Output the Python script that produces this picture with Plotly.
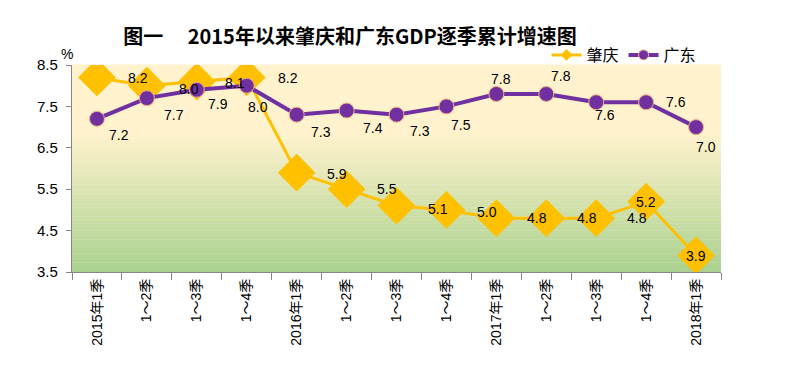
import plotly.graph_objects as go

categories = ["2015年1季", "1～2季", "1～3季", "1～4季",
              "2016年1季", "1～2季 ", "1～3季 ", "1～4季 ",
              "2017年1季", "1～2季  ", "1～3季  ", "1～4季  ",
              "2018年1季"]
tick_text = ["2015年1季", "1～2季", "1～3季", "1～4季",
             "2016年1季", "1～2季", "1～3季", "1～4季",
             "2017年1季", "1～2季", "1～3季", "1～4季",
             "2018年1季"]
zhaoqing = [8.2, 8.0, 8.1, 8.2, 5.9, 5.5, 5.1, 5.0, 4.8, 4.8, 4.8, 5.2, 3.9]
guangdong = [7.2, 7.7, 7.9, 8.0, 7.3, 7.4, 7.3, 7.5, 7.8, 7.8, 7.6, 7.6, 7.0]
y_ticks = [3.5, 4.5, 5.5, 6.5, 7.5, 8.5]

# label offsets in screen pixels (dx right, dy down)
zq_offsets = [(41, 1), (42, 3), (38, 1), (41, 1), (40, 1), (40, 0), (41, 3),
              (41, 2), (41, 0), (41, 0), (41, 0), (0, 0), (0, 1)]
gd_offsets = [(22, 16), (27, 17), (21, 14), (11, 21), (24, 17), (26, 17), (23, 16),
              (15, 19), (5, -15), (15, -18), (9, 13), (30, 0), (10, 20)]

YEL = "#FFC000"
PUR = "#7030A0"
LAB_FONT = dict(family="Liberation Sans, Noto Sans CJK SC", size=14, color="#000000")

fig = go.Figure()

# gradient background strips
n = 90
top = (255, 242, 204)
bot = (169, 209, 142)
for i in range(n):
    y0 = i / n
    y1 = (i + 1) / n
    t = 1 - (y0 + y1) / 2  # fraction from top
    if t < 0.33:
        f = 0.0
    else:
        f = (t - 0.33) / 0.67
    c = tuple(int(round(top[k] + (bot[k] - top[k]) * f)) for k in range(3))
    fig.add_shape(type="rect", xref="x domain", yref="y domain",
                  x0=0, x1=1, y0=y0, y1=y1 + 0.002, line_width=0,
                  fillcolor="rgb(%d,%d,%d)" % c, layer="below")

fig.add_trace(go.Scatter(
    x=categories, y=zhaoqing, mode="lines+markers", name="肇庆",
    line=dict(color=YEL, width=3),
    marker=dict(symbol="diamond", size=29, color=YEL),
    showlegend=False, hoverinfo="skip"))
fig.add_trace(go.Scatter(
    x=categories, y=guangdong, mode="lines+markers", name="广东",
    line=dict(color=PUR, width=4),
    marker=dict(symbol="circle", size=15, color=PUR, line=dict(color="#F4B183", width=1)),
    showlegend=False, hoverinfo="skip"))

# legend-only traces
fig.add_trace(go.Scatter(
    x=[None], y=[None], mode="lines+markers", name="肇庆",
    line=dict(color=YEL, width=3),
    marker=dict(symbol="diamond", size=9, color=YEL)))
fig.add_trace(go.Scatter(
    x=[None], y=[None], mode="lines+markers", name="广东",
    line=dict(color=PUR, width=4),
    marker=dict(symbol="circle", size=10, color=PUR, line=dict(color="#F4B183", width=1))))

for c, v, (dx, dy) in zip(categories, zhaoqing, zq_offsets):
    fig.add_annotation(x=c, y=v, text="%.1f" % v, showarrow=False,
                       xshift=dx, yshift=-dy, font=LAB_FONT)
for c, v, (dx, dy) in zip(categories, guangdong, gd_offsets):
    fig.add_annotation(x=c, y=v, text="%.1f" % v, showarrow=False,
                       xshift=dx, yshift=-dy, font=LAB_FONT)

fig.add_annotation(xref="paper", yref="paper", x=0, y=1, text="%",
                   showarrow=False, xanchor="center", yanchor="bottom",
                   xshift=-5, yshift=1,
                   font=dict(family="Liberation Sans", size=14, color="#000000"))

fig.update_layout(
    width=791, height=380,
    margin=dict(l=72, r=70, t=65, b=108, autoexpand=False),
    paper_bgcolor="white", plot_bgcolor="white",
    title=dict(text="<b>图一　 2015年以来肇庆和广东GDP逐季累计增速图</b>",
               x=350 / 791, xanchor="center", xref="container",
               y=1 - 37 / 380, yanchor="middle", yref="container",
               font=dict(family="Noto Sans CJK SC", size=20, color="#000000")),
    legend=dict(orientation="h", x=0.97, xanchor="right", y=(272 - 55) / 207, yanchor="middle",
                font=dict(family="Noto Sans CJK SC", size=16, color="#000000"),
                bgcolor="rgba(0,0,0,0)", itemwidth=30, tracegroupgap=0),
    showlegend=True,
)
fig.update_xaxes(
    type="category", range=[-0.5, 12.5],
    tickmode="array", tickvals=categories, ticktext=tick_text,
    tickangle=-90, tickson="boundaries", ticks="outside", ticklen=7,
    tickcolor="#878787", tickwidth=1.3,
    showline=True, linecolor="#878787", linewidth=1.3,
    showgrid=False, zeroline=False,
    tickfont=dict(family="Liberation Sans, Noto Sans CJK SC", size=14, color="#000000"))
fig.update_yaxes(
    range=[3.5, 8.5], tickmode="array", tickvals=y_ticks,
    ticktext=["%.1f" % v for v in y_ticks],
    ticks="outside", ticklen=5, tickcolor="#878787", tickwidth=1.3,
    showline=True, linecolor="#878787", linewidth=1.3,
    showgrid=False, zeroline=False, ticklabelstandoff=5,
    tickfont=dict(family="Liberation Sans", size=15, color="#000000"))

fig.write_html("out.html", config={"displayModeBar": False},
               post_script="document.body.style.margin='0';document.body.style.padding='0';")
